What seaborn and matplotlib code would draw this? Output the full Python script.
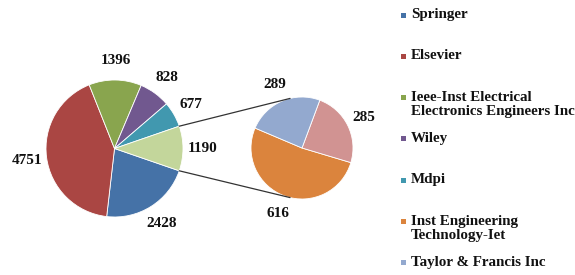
import numpy as np
import matplotlib
matplotlib.use('Agg')
import matplotlib.pyplot as plt
import seaborn as sns
from matplotlib.patches import ConnectionPatch, Rectangle

# publishers in the main pie (last slice is broken out into the second pie)
main_names = ['Springer', 'Elsevier', 'Ieee-Inst Electrical\nElectronics Engineers Inc',
              'Wiley', 'Mdpi', 'Other']
main_values = [2428, 4751, 1396, 828, 677, 1190]
main_colors = ['#4572A7', '#AA4643', '#89A54E', '#71588F', '#4198AF', '#C3D69B']

# breakdown of the "Other" slice
sub_names = ['Inst Engineering\nTechnology-Iet', 'Other publishers', 'Taylor & Francis Inc']
sub_values = [616, 285, 289]
sub_colors = ['#DB843D', '#D19392', '#93A9CF']

legend_names = main_names[:5] + [sub_names[0], sub_names[2]]
legend_colors = main_colors[:5] + [sub_colors[0], sub_colors[2]]

sns.set_theme(style='white')
plt.rcParams['font.family'] = ['Liberation Serif', 'DejaVu Serif']

W, H = 575, 275
fig = plt.figure(figsize=(W / 100, H / 100), dpi=100)
ax = fig.add_axes([0, 0, 1, 1])
ax.set_aspect('equal')
ax.axis('off')

main_c, main_r = (114.5, 126.5), 68.5
sub_c, sub_r = (302, 127), 51

def val_fmt(vals):
    tot = sum(vals)
    return lambda p: f'{int(round(p * tot / 100))}'

other_frac = main_values[-1] / sum(main_values)
w1, _, t1 = ax.pie(main_values, colors=main_colors, center=main_c, radius=main_r,
                   startangle=-other_frac * 180, counterclock=False,
                   autopct=val_fmt(main_values), pctdistance=1.29,
                   wedgeprops=dict(edgecolor='white', linewidth=0.6),
                   textprops=dict(fontsize=11, fontweight='bold', color='#111111'))

w2, _, t2 = ax.pie(sub_values, colors=sub_colors, center=sub_c, radius=sub_r,
                   startangle=157,
                   autopct=val_fmt(sub_values), pctdistance=1.36,
                   wedgeprops=dict(edgecolor='white', linewidth=0.6),
                   textprops=dict(fontsize=11, fontweight='bold', color='#111111'))
ax.set_xlim(0, W)
ax.set_ylim(0, H)

# connector lines from the broken-out slice to the second pie
other_w = w1[-1]
for ang_main, ang_sub in [(other_w.theta2, 103.5), (other_w.theta1, -103.5)]:
    p_main = (main_c[0] + main_r * np.cos(np.radians(ang_main)),
              main_c[1] + main_r * np.sin(np.radians(ang_main)))
    p_sub = (sub_c[0] + sub_r * np.cos(np.radians(ang_sub)),
             sub_c[1] + sub_r * np.sin(np.radians(ang_sub)))
    ax.add_artist(ConnectionPatch(xyA=p_main, xyB=p_sub, coordsA='data', coordsB='data',
                                  color='#333333', linewidth=0.9))

# legend, laid out like the original (entries on an even grid)
top_y, step = 15, 41.3
for i, (name, col) in enumerate(zip(legend_names, legend_colors)):
    y = H - (top_y + i * step)
    ax.add_patch(Rectangle((400.5, y - 2.5), 5, 5, facecolor=col, edgecolor='none'))
    ax.text(411, y + 7, name, fontsize=10.8, fontweight='bold', color='#111111',
            ha='left', va='top', linespacing=1.12)

fig.savefig('out.png', dpi=100)
